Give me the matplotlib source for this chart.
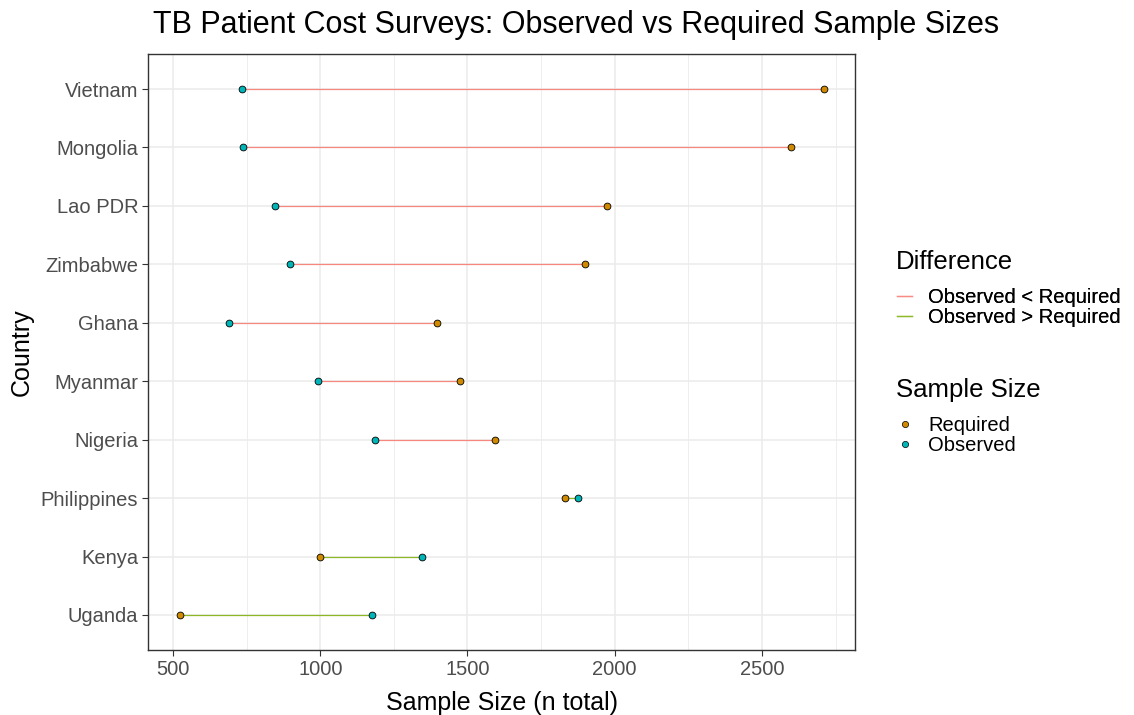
import numpy as np
import matplotlib.pyplot as plt
from matplotlib.lines import Line2D
from matplotlib.ticker import MultipleLocator

plt.rcParams['font.family'] = ['Liberation Sans', 'DejaVu Sans']

# data, bottom to top
countries = ["Uganda", "Kenya", "Philippines", "Nigeria", "Myanmar",
             "Ghana", "Zimbabwe", "Lao PDR", "Mongolia", "Vietnam"]
observed = [1177, 1347, 1875, 1187, 993, 690, 898, 847, 738, 735]
required = [524, 1000, 1832, 1592, 1476, 1395, 1900, 1975, 2600, 2710]

col_less = "#F8766D"
col_more = "#7CAE00"
col_req = "#D08A00"
col_obs = "#00B5B8"

W, H = 1134, 715
fig = plt.figure(figsize=(W / 100, H / 100), dpi=100)
ax = fig.add_axes([148 / W, 1 - 650 / H, (855 - 148) / W, (650 - 54) / H])

y = np.arange(len(countries))
for i in range(len(countries)):
    c = col_less if observed[i] < required[i] else col_more
    ax.plot([observed[i], required[i]], [y[i], y[i]], color=c, lw=0.9, alpha=0.85, zorder=2)

ax.scatter(required, y, s=24, color=col_req, edgecolor="black", linewidth=0.6, zorder=3)
ax.scatter(observed, y, s=24, color=col_obs, edgecolor="black", linewidth=0.6, zorder=3)

ax.set_xlim(415, 2816)
ax.set_ylim(-0.6, len(countries) - 0.4)
ax.set_yticks(y)
ax.set_yticklabels(countries)
ax.xaxis.set_major_locator(MultipleLocator(500))
ax.xaxis.set_minor_locator(MultipleLocator(250))
ax.grid(which="major", color="#EBEBEB", lw=1.1)
ax.grid(which="minor", axis="x", color="#EBEBEB", lw=0.6)
ax.set_axisbelow(True)
ax.tick_params(which="minor", length=0)
ax.tick_params(which="major", length=4, color="#333333", labelsize=14.5,
               labelcolor="#4D4D4D", pad=3)
for s in ax.spines.values():
    s.set_color("#333333")
    s.set_linewidth(1)

ax.set_xlabel("Sample Size (n total)", fontsize=18, labelpad=9)
ax.set_ylabel("Country", fontsize=18, labelpad=5)

fig.text(576 / W, 1 - 25 / H, "TB Patient Cost Surveys: Observed vs Required Sample Sizes",
         fontsize=22, ha="center", va="center")

# legends
fig.text(896 / W, 1 - 262 / H, "Difference", fontsize=18.5, ha="left", va="center")
h1 = [Line2D([], [], color=col_less, lw=1, alpha=0.6),
      Line2D([], [], color=col_more, lw=1, alpha=0.6)]
leg1 = fig.legend(h1, ["Observed < Required", "Observed > Required"],
                  loc="upper left", bbox_to_anchor=(897 / W, 1 - 288 / H),
                  frameon=False, fontsize=14.5, handlelength=0.75,
                  handletextpad=0.8, labelspacing=0.05, borderpad=0, borderaxespad=0)

fig.text(896 / W, 1 - 390 / H, "Sample Size", fontsize=18.5, ha="left", va="center")
h2 = [Line2D([], [], ls="", marker="o", ms=4.5, mfc=col_req, mec="black", mew=0.5),
      Line2D([], [], ls="", marker="o", ms=4.5, mfc=col_obs, mec="black", mew=0.5)]
leg2 = fig.legend(h2, ["Required", "Observed"],
                  loc="upper left", bbox_to_anchor=(897 / W, 1 - 416 / H),
                  frameon=False, fontsize=14.5, handlelength=0.75,
                  handletextpad=0.8, labelspacing=0.05, borderpad=0, borderaxespad=0)
fig.add_artist(leg1)

fig.savefig("out.png", dpi=100)
